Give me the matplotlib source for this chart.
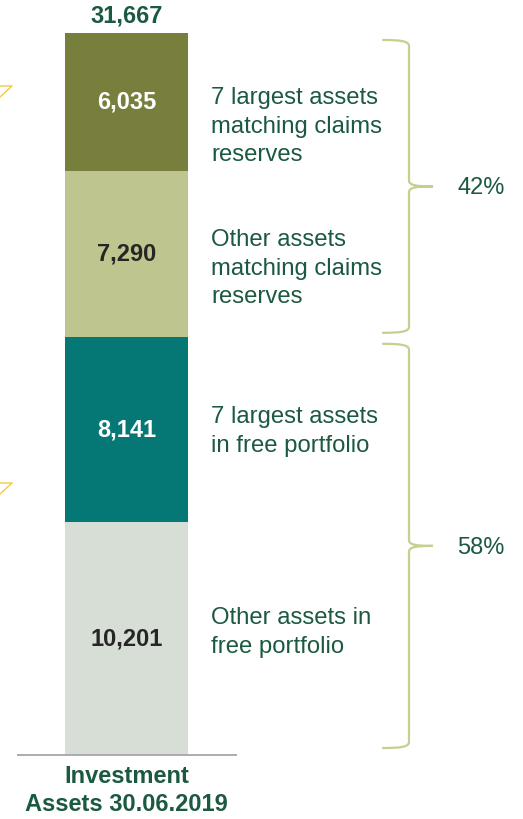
import matplotlib
matplotlib.use("Agg")
import matplotlib.pyplot as plt
from matplotlib.path import Path
from matplotlib.patches import PathPatch

plt.rcParams['font.family'] = ['Liberation Sans', 'DejaVu Sans']

# data (EUR m)
values = [10201, 8141, 7290, 6035]          # bottom -> top
seg_colors = ['#d7ded6', '#057775', '#bec58e', '#787f3c']
num_colors = ['#262626', 'white', '#262626', 'white']
labels = ['Other assets in\nfree portfolio',
          '7 largest assets\nin free portfolio',
          'Other assets\nmatching claims\nreserves',
          '7 largest assets\nmatching claims\nreserves']
groups = [[2, 3], [0, 1]]   # segment indices covered by each brace
category = 'Investment\nAssets 30.06.2019'

GREEN = '#1b5940'
BRACE = '#c5cf8e'

total = sum(values)
W, H = 523, 819
base_px, top_px = 755, 33
k = (base_px - top_px) / total       # px per unit


def v(px_off):
    # convert a pixel offset into data units
    return px_off / k


fig = plt.figure(figsize=(W / 100, H / 100), dpi=100)
ax = fig.add_axes([0, 0, 1, 1])
ax.axis('off')
ax.set_xlim(0, W)
ax.set_ylim(-v(H - base_px), v(base_px))

bar_x, bar_w = 126.5, 123
bottoms = []
b = 0
for val, col in zip(values, seg_colors):
    ax.bar(bar_x, val, width=bar_w, bottom=b, color=col, edgecolor='none')
    bottoms.append(b)
    b += val

# numbers inside the segments
for val, b0, tc in zip(values, bottoms, num_colors):
    ax.text(bar_x, b0 + val / 2, f'{val:,}', ha='center', va='center',
            fontsize=17, fontweight='bold', color=tc)

ax.text(bar_x, total + v(6), f'{total:,}', ha='center', va='bottom',
        fontsize=17, fontweight='bold', color=GREEN)

# segment descriptions, nudged by eye
label_off = [-6, 2, 15, 25]
for lab, val, b0, off in zip(labels, values, bottoms, label_off):
    ax.text(211, b0 + val / 2 - v(off), lab, ha='left', va='center',
            fontsize=17.2, color=GREEN, linespacing=1.38)

# baseline
ax.plot([17, 237], [0, 0], color='#a6a6a6', lw=1.3, solid_capstyle='butt')

ax.text(bar_x, -v(10), category, ha='center', va='top', fontsize=17,
        fontweight='bold', color=GREEN, linespacing=1.3)


def brace(y_top, y_bot, x0=383, xm=409, xt=433):
    ym = (y_top + y_bot) / 2
    d = v(6)
    verts = [(x0, y_top), (400, y_top), (xm, y_top - v(1)), (xm, y_top - d),
             (xm, ym + d),
             (xm, ym + v(1)), (416, ym), (xt, ym),
             (416, ym), (xm, ym - v(1)), (xm, ym - d),
             (xm, y_bot + d),
             (xm, y_bot + v(1)), (400, y_bot), (x0, y_bot)]
    codes = [Path.MOVETO, Path.CURVE4, Path.CURVE4, Path.CURVE4,
             Path.LINETO,
             Path.CURVE4, Path.CURVE4, Path.CURVE4,
             Path.CURVE4, Path.CURVE4, Path.CURVE4,
             Path.LINETO,
             Path.CURVE4, Path.CURVE4, Path.CURVE4]
    ax.add_patch(PathPatch(Path(verts, codes), fill=False, edgecolor=BRACE,
                           lw=1.6, capstyle='round'))
    return ym


for grp in groups:
    lo = bottoms[min(grp)]
    hi = bottoms[max(grp)] + values[max(grp)]
    ym = brace(hi - v(7), lo + v(4) if lo > 0 else lo + v(7))
    pct = sum(values[i] for i in grp) / total
    ax.text(457, ym - v(2), f'{pct:.0%}', ha='left', va='center',
            fontsize=17, color=GREEN)

# cropped yellow marks at the left edge
for yp in (86, 483):
    ax.plot([0, 12, 0], [v(base_px - yp)] * 2 + [v(base_px - yp - 11)],
            color='#f6c93c', lw=1)

fig.savefig('out.png', dpi=100)
